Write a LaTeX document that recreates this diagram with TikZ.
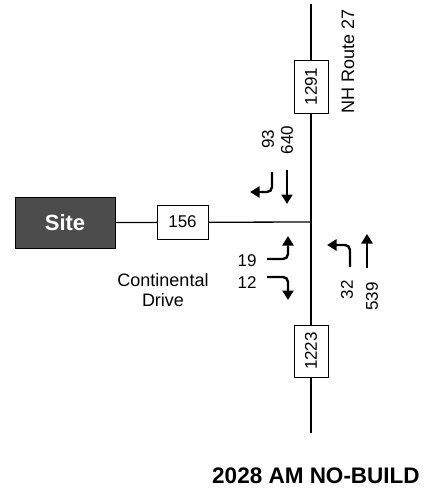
\documentclass[tikz,border=0pt]{standalone}
\usepackage{fontspec}
\setmainfont{Liberation Sans}
\usetikzlibrary{arrows.meta}
\begin{document}
\begin{tikzpicture}[x=1pt,y=-1pt,
  road/.style={line width=1.3pt},
  vol/.style={draw,line width=0.8pt,fill=white,inner sep=0pt,font=\fontsize{17}{17}\selectfont},
  num/.style={inner sep=0pt,font=\fontsize{17}{17}\selectfont},
  lbl/.style={inner sep=0pt,font=\fontsize{18}{20}\selectfont,align=center},
  mv/.style={line width=2.4pt,rounded corners=5pt,-{Triangle[length=9.5pt,width=11pt]}}]
\useasboundingbox (0,0) rectangle (428,498);
% roads
\coordinate (ntop) at (311,4);
\coordinate (sbot) at (311,433);
\coordinate (ix) at (311,222);
\node[draw=black,line width=0.8pt,fill=black!70,minimum width=100pt,minimum height=51pt,inner sep=0pt,
  font=\fontsize{22}{22}\selectfont\bfseries,text=white] (site) at (65,222.5) {Site};
\draw[road] (ntop) -- (sbot);
\draw[road] (site.east) -- (ix);
% volume boxes
\node[vol,minimum width=51pt,minimum height=34pt] (v156) at (182.5,222) {156};
\node[vol,minimum width=34pt,minimum height=53pt] (v1291) at (311,86.5) {\rotatebox{90}{1291}};
\node[vol,minimum width=34pt,minimum height=52pt] (v1223) at (311,351) {\rotatebox{90}{1223}};
% labels
\node[lbl,rotate=90] (nh) at (348,61) {NH Route 27};
\node[lbl] (cd) at (163,290) {Continental\\Drive};
\node[num,rotate=90] (n93) at (268,139) {93};
\node[num,rotate=90] (n640) at (287,140) {640};
\node[num,rotate=90,anchor=east] (n32) at (347,280) {32};
\node[num,rotate=90,anchor=east] (n539) at (372,282) {539};
\node[num] (n19) at (247,261) {19};
\node[num] (n12) at (247,283) {12};
% movement arrows
\coordinate (sl1) at (272,172); \coordinate (sl2) at (272,192); \coordinate (sl3) at (250,192);
\draw[mv] (sl1) -- (sl2) -- (sl3);
\coordinate (st1) at (287,170); \coordinate (st2) at (287,204);
\draw[mv] (st1) -- (st2);
\coordinate (el1) at (267,259); \coordinate (el2) at (288,259); \coordinate (el3) at (288,236);
\draw[mv] (el1) -- (el2) -- (el3);
\coordinate (er1) at (267,277); \coordinate (er2) at (288,277); \coordinate (er3) at (288,300);
\draw[mv] (er1) -- (er2) -- (er3);
\coordinate (nl1) at (350,267); \coordinate (nl2) at (350,245); \coordinate (nl3) at (327,245);
\draw[mv] (nl1) -- (nl2) -- (nl3);
\coordinate (nt1) at (367,268); \coordinate (nt2) at (367,234);
\draw[mv] (nt1) -- (nt2);
% title
\node[inner sep=0pt,font=\fontsize{22.5}{22.5}\selectfont\bfseries] (title) at (316,476) {2028 AM NO-BUILD};
\end{tikzpicture}
\end{document}
